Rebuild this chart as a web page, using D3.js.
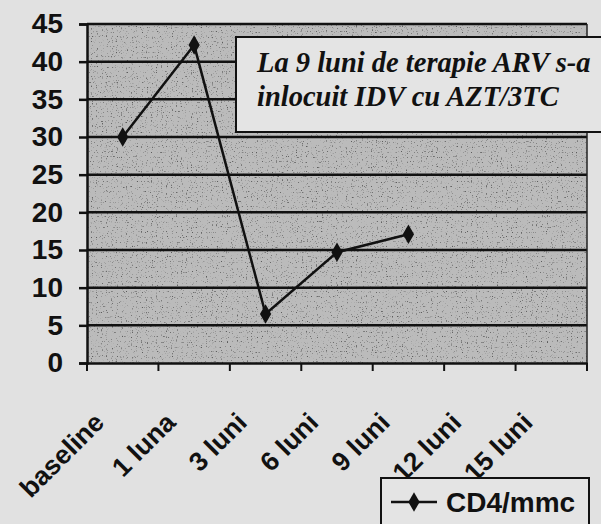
<!DOCTYPE html>
<html>
<head>
<meta charset="utf-8">
<script src="https://cdn.jsdelivr.net/npm/d3@7"></script>
<style>
  html, body { margin: 0; padding: 0; background: #e1e1e1; }
  svg { display: block; }
</style>
</head>
<body>
<div id="chart"></div>
<script>
// categorii (luni de la inceputul terapiei)
const categories = ["baseline", "1 luna", "3 luni", "6 luni", "9 luni", "12 luni", "15 luni"];
// valori CD4/mmc (null = fara date)
const cd4Values = [30, 42.2, 6.5, 14.7, 17.1, null, null];
const yTicks = [0, 5, 10, 15, 20, 25, 30, 35, 40, 45];
const seriesName = "CD4/mmc";
const noteLines = ["La 9 luni de terapie ARV s-a", "inlocuit IDV cu AZT/3TC"];

const W = 601, H = 524;
const plot = { left: 87, right: 587, top: 24, bottom: 363 };

const svg = d3.select("#chart")
    .append("svg")
    .attr("width", W)
    .attr("height", H);

// textura gri a zonei de desen
const defs = svg.append("defs");
const filt = defs.append("filter").attr("id", "grain")
    .attr("x", 0).attr("y", 0).attr("width", 1).attr("height", 1);
filt.append("feTurbulence")
    .attr("type", "fractalNoise")
    .attr("baseFrequency", 0.8)
    .attr("numOctaves", 1)
    .attr("seed", 7)
    .attr("result", "noise");
filt.append("feColorMatrix")
    .attr("in", "noise")
    .attr("type", "matrix")
    .attr("values", "0 0 0 0 0  0 0 0 0 0  0 0 0 0 0  0 0 0 -6 2.3")
    .attr("result", "dots");
filt.append("feComposite").attr("in", "dots").attr("in2", "SourceGraphic").attr("operator", "in");

svg.append("rect").attr("width", W).attr("height", H).attr("fill", "#e1e1e1");

const x = d3.scaleBand()
    .domain(categories)
    .range([plot.left, plot.right])
    .padding(0);

const y = d3.scaleLinear()
    .domain([0, 45])
    .range([plot.bottom, plot.top]);

svg.append("rect")
    .attr("x", plot.left)
    .attr("y", plot.top)
    .attr("width", plot.right - plot.left)
    .attr("height", plot.bottom - plot.top)
    .attr("fill", "#bbbbbb");

svg.append("rect")
    .attr("x", plot.left)
    .attr("y", plot.top)
    .attr("width", plot.right - plot.left)
    .attr("height", plot.bottom - plot.top)
    .attr("fill", "#333")
    .attr("filter", "url(#grain)")
    .attr("opacity", 0.5);

// linii de grila
svg.append("g")
    .selectAll("line")
    .data(yTicks.filter(d => d > 0))
    .enter().append("line")
    .attr("x1", plot.left)
    .attr("x2", plot.right)
    .attr("y1", d => y(d))
    .attr("y2", d => y(d))
    .attr("stroke", "#111")
    .attr("stroke-width", 2.5);

// margine dreapta
svg.append("line")
    .attr("x1", plot.right).attr("x2", plot.right)
    .attr("y1", plot.top).attr("y2", plot.bottom)
    .attr("stroke", "#222").attr("stroke-width", 1.5);

// axa Y
const yAxis = svg.append("g")
    .attr("transform", `translate(${plot.left},0)`)
    .call(d3.axisLeft(y).tickValues(yTicks).tickSize(8).tickPadding(16));
yAxis.select(".domain").attr("stroke", "#111").attr("stroke-width", 2.5);
yAxis.selectAll(".tick line").attr("stroke", "#111").attr("stroke-width", 2.5);
yAxis.selectAll(".tick text")
    .attr("fill", "#111")
    .style("font-family", "Liberation Sans, Arial, sans-serif")
    .style("font-weight", "bold")
    .style("font-size", "28px");

// axa X
const xAxis = svg.append("g")
    .attr("transform", `translate(0,${plot.bottom})`)
    .call(d3.axisBottom(x).tickSize(0).tickFormat(""));
xAxis.select(".domain").attr("stroke", "#111").attr("stroke-width", 2.5);

const edges = categories.map(c => x(c)).concat([plot.right]);
svg.append("g")
    .selectAll("line")
    .data(edges)
    .enter().append("line")
    .attr("x1", d => d).attr("x2", d => d)
    .attr("y1", plot.bottom).attr("y2", plot.bottom + 8)
    .attr("stroke", "#111").attr("stroke-width", 2);

svg.append("g")
    .selectAll("text")
    .data(categories)
    .enter().append("text")
    .attr("transform", d => `translate(${x(d) + x.bandwidth() / 2 - 17},${plot.bottom + 61}) rotate(-45)`)
    .attr("text-anchor", "end")
    .attr("fill", "#111")
    .style("font-family", "Liberation Sans, Arial, sans-serif")
    .style("font-weight", "bold")
    .style("font-size", "26.5px")
    .text(d => d);

// seria
const pts = categories.map((c, i) => ({ cat: c, v: cd4Values[i] }));
const line = d3.line()
    .defined(d => d.v != null)
    .x(d => x(d.cat) + x.bandwidth() / 2)
    .y(d => y(d.v));

svg.append("path")
    .datum(pts)
    .attr("d", line)
    .attr("fill", "none")
    .attr("stroke", "#111")
    .attr("stroke-width", 2.5);

const diamond = d3.symbol().type(d3.symbolDiamond).size(110);
svg.append("g")
    .selectAll("path")
    .data(pts.filter(d => d.v != null))
    .enter().append("path")
    .attr("d", diamond)
    .attr("transform", d => `translate(${x(d.cat) + x.bandwidth() / 2},${y(d.v)})`)
    .attr("fill", "#111");

// caseta cu nota
const note = svg.append("g");
note.append("rect")
    .attr("x", 236).attr("y", 37)
    .attr("width", 380).attr("height", 95)
    .attr("fill", "#e4e4e4")
    .attr("stroke", "#111")
    .attr("stroke-width", 2);
note.selectAll("text")
    .data(noteLines)
    .enter().append("text")
    .attr("x", 257)
    .attr("y", (d, i) => 72 + i * 34)
    .attr("fill", "#111")
    .style("font-family", "Liberation Serif, 'Times New Roman', serif")
    .style("font-style", "italic")
    .style("font-weight", "bold")
    .style("font-size", "28.5px")
    .text(d => d);

// legenda
const legend = svg.append("g");
legend.append("rect")
    .attr("x", 381).attr("y", 478)
    .attr("width", 208).attr("height", 60)
    .attr("fill", "#e4e4e4")
    .attr("stroke", "#111")
    .attr("stroke-width", 2);
legend.append("line")
    .attr("x1", 391).attr("x2", 437)
    .attr("y1", 502).attr("y2", 502)
    .attr("stroke", "#111").attr("stroke-width", 2.5);
legend.append("path")
    .attr("d", diamond)
    .attr("transform", "translate(414,502)")
    .attr("fill", "#111");
legend.append("text")
    .attr("x", 446).attr("y", 512)
    .attr("fill", "#111")
    .style("font-family", "Liberation Sans, Arial, sans-serif")
    .style("font-weight", "bold")
    .style("font-size", "28px")
    .text(seriesName);
</script>
</body>
</html>
